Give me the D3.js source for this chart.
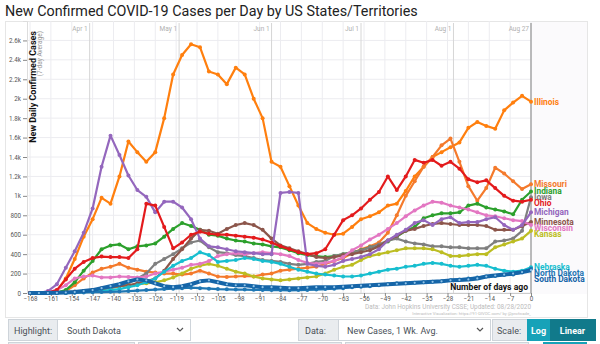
<!DOCTYPE html>
<html><head><meta charset="utf-8">
<script src="https://cdn.jsdelivr.net/npm/d3@7"></script>
<style>
html,body{margin:0;padding:0;background:#fff;}
svg{display:block;font-family:Roboto,"Open Sans",sans-serif;}
</style></head>
<body>
<svg id="chart" width="600" height="344"></svg>
<script>
// ---------- DATA ----------
const days = [-168,-165,-162,-159,-156,-153,-150,-147,-144,-141,-138,-135,-132,-129,-126,-123,-120,-117,-114,-111,-108,-105,-102,-99,-96,-93,-90,-87,-84,-81,-78,-75,-72,-69,-66,-63,-60,-57,-54,-51,-48,-45,-42,-39,-36,-33,-30,-27,-24,-21,-18,-15,-12,-9,-6,-3,0];
const illinois = [0,0,5,20,150,350,580,760,980,920,1200,1560,1450,1350,1450,1800,2250,2450,2560,2530,2280,2250,2150,2320,2250,2000,1800,1350,1300,1100,900,720,660,620,600,610,680,760,790,830,900,920,1050,1200,1300,1400,1450,1500,1550,1700,1760,1720,1690,1880,1960,2030,1970];
const missouri = [0,0,0,5,20,80,150,210,250,270,300,260,240,220,210,200,200,190,200,230,200,170,165,170,175,170,190,200,230,240,250,260,270,300,330,360,410,450,480,520,620,800,1000,1150,1300,1400,1520,1590,1350,1100,950,1080,1290,1230,1150,1070,1120];
const indiana = [0,0,0,5,30,110,230,330,450,490,500,450,480,490,510,580,660,720,690,650,600,590,560,540,530,510,500,480,470,440,410,390,380,370,380,400,420,440,470,490,530,580,640,680,770,800,820,820,830,900,920,880,860,840,810,960,1045];
const iowa = [0,0,0,0,5,10,20,30,40,50,70,100,150,200,300,350,400,460,520,540,470,420,410,390,380,360,340,330,320,300,290,300,320,330,380,400,420,440,470,500,540,560,530,510,500,480,480,470,470,460,460,460,530,540,560,640,985];
const ohio = [0,0,5,30,140,250,320,360,375,370,370,360,450,920,900,680,460,520,600,630,610,600,600,590,580,570,550,520,480,450,420,400,410,450,600,750,800,870,960,1040,1200,1060,1200,1370,1340,1370,1310,1350,1280,1170,1140,1160,1080,1000,950,940,960];
const michigan = [0,0,20,90,260,430,620,870,1300,1620,1420,1210,1060,990,830,940,940,880,760,560,480,470,450,430,420,410,400,400,1030,1040,1030,300,280,270,290,330,350,370,400,450,540,600,650,720,750,700,760,780,720,730,730,760,780,700,650,700,830];
const minnesota = [0,0,0,0,5,15,20,30,50,60,70,80,100,120,150,230,350,450,560,650,640,610,660,700,720,700,650,560,490,460,430,400,370,360,370,390,400,420,440,480,540,590,640,660,690,710,720,710,700,700,700,690,650,650,650,690,730];
const wisconsin = [0,0,10,30,80,150,170,180,160,160,170,165,160,170,200,220,240,260,290,300,330,380,400,410,400,410,420,410,400,380,340,310,300,310,330,370,440,490,550,600,660,720,790,850,900,940,930,900,880,860,830,800,790,770,750,740,700];
const kansas = [0,0,0,0,2,10,20,30,40,60,70,80,90,100,110,130,160,200,250,280,300,280,250,220,200,170,150,140,130,140,150,160,170,200,240,270,290,340,380,400,420,440,460,460,460,450,420,380,380,390,400,400,470,500,530,560,640];
const nebraska = [0,0,0,0,0,5,10,15,20,30,40,60,80,110,150,220,280,330,360,420,390,320,330,340,360,350,330,320,300,270,240,220,200,190,180,170,170,180,200,220,240,250,270,280,300,310,300,280,270,280,290,280,250,230,220,230,265];
const northDakota = [0,0,0,0,1,3,5,8,10,12,15,20,25,30,35,40,45,50,55,50,45,40,38,35,35,33,32,30,30,28,30,32,35,40,45,50,60,65,70,80,90,100,100,105,110,115,120,130,140,150,160,170,175,185,190,210,250];
const southDakota = [0,0,0,2,5,10,20,30,50,70,90,120,140,130,100,70,60,70,90,120,130,110,90,80,80,70,60,60,55,50,50,55,60,60,60,65,70,75,80,85,90,95,100,105,110,115,120,130,135,140,150,170,180,190,200,215,235];

const seriesNames = ["Illinois","Missouri","Indiana","Iowa","Kansas","Minnesota","Wisconsin","Nebraska","Michigan","Ohio","North Dakota","South Dakota"];
const seriesValues = [illinois,missouri,indiana,iowa,kansas,minnesota,wisconsin,nebraska,michigan,ohio,northDakota,southDakota];
const seriesColors = ["#ff7f0e","#f47a2c","#2ca02c","#7f7f7f","#bcbd22","#8c564b","#e377c2","#17becf","#9467bd","#e31a1c","#1f77b4","#1565a8"];
const highlighted = "South Dakota";

const xTicks = [-168,-161,-154,-147,-140,-133,-126,-119,-112,-105,-98,-91,-84,-77,-70,-63,-56,-49,-42,-35,-28,-21,-14,-7,0];
const yTicks = [0,200,400,600,800,1000,1200,1400,1600,1800,2000,2200,2400,2600];
const monthLabels = ["Apr 1","May 1","Jun 1","Jul 1","Aug 1","Aug 27"];
const monthDays = [-148,-118,-87,-57,-26,0];

// ---------- CHART ----------
const svg = d3.select("#chart");
const L = 27, R = 531, T = 21, B = 293;
const x = d3.scaleLinear().domain([-168, 0]).range([30, R]);
const y = d3.scaleLinear().domain([0, 2800]).range([B, T]);

// title
const title = svg.append("text").attr("x", 5).attr("y", 16)
  .attr("font-size", 16).attr("fill", "#222").text("New Confirmed COVID-19 Cases per Day by US States/Territories");
const tw = title.node().getComputedTextLength();
title.attr("font-size", 16 * 413 / tw);

// frame
svg.append("rect").attr("x", 5.5).attr("y", T + 0.5).attr("width", 582).attr("height", 296)
  .attr("fill", "#fff").attr("stroke", "#e6e6e6");
svg.append("rect").attr("x", R).attr("y", T + 1).attr("width", 587 - R).attr("height", B - T)
  .attr("fill", "#fbfafc");

// grid
const g = svg.append("g");
g.selectAll(".vg").data(xTicks).join("line")
  .attr("x1", d => x(d)).attr("x2", d => x(d)).attr("y1", T).attr("y2", B)
  .attr("stroke", "#ececf0").attr("stroke-width", 1);
g.selectAll(".hg").data(yTicks).join("line")
  .attr("x1", L).attr("x2", R).attr("y1", d => y(d)).attr("y2", d => y(d))
  .attr("stroke", "#ececf0").attr("stroke-width", 1);

// month lines
monthDays.forEach((d, i) => {
  const last = i === monthDays.length - 1;
  g.append("line").attr("x1", x(d)).attr("x2", x(d)).attr("y1", T + 2).attr("y2", B)
    .attr("stroke", last ? "#9a9a9a" : "#d6d6d6").attr("stroke-width", last ? 1.3 : 1);
  g.append("text").attr("x", x(d) - 2).attr("y", 31).attr("text-anchor", "end")
    .attr("font-size", 6.5).attr("fill", "#b0b0b0").text(monthLabels[i]);
});

// axes
const yAxis = svg.append("g").attr("transform", `translate(${L},0)`)
  .call(d3.axisLeft(y).tickValues(yTicks).tickSize(4).tickPadding(2)
    .tickFormat(d => d >= 1000 ? (d / 1000) + "k" : d));
yAxis.select(".domain").attr("stroke", "#ddd");
yAxis.selectAll(".tick line").attr("stroke", "#888");
yAxis.selectAll("text").attr("font-size", 6.3).attr("fill", "#555").attr("font-family", "Roboto");

const xAxis = svg.append("g").attr("transform", `translate(0,${B})`)
  .call(d3.axisBottom(x).tickValues(xTicks).tickSize(3).tickPadding(1));
xAxis.select(".domain").attr("stroke", "#ccc");
xAxis.selectAll(".tick line").attr("stroke", "#888");
xAxis.selectAll("text").attr("font-size", 6.3).attr("fill", "#555").attr("font-family", "Roboto");

// axis titles
svg.append("text").attr("transform", "translate(35.5,31) rotate(-90)").attr("text-anchor", "end")
  .attr("font-size", 9).attr("font-weight", "bold").attr("fill", "#111").text("New Daily Confirmed Cases");
svg.append("text").attr("transform", "translate(42,31) rotate(-90)").attr("text-anchor", "end")
  .attr("font-size", 6.5).attr("fill", "#999").text("(7-day Average)");

// lines
const line = d3.line().x((d, i) => x(days[i])).y(d => y(d));
seriesNames.forEach((name, k) => {
  const vals = seriesValues[k];
  const hl = name === highlighted;
  svg.append("path").datum(vals).attr("d", line).attr("fill", "none")
    .attr("stroke", seriesColors[k]).attr("stroke-width", hl ? 4 : 2.2)
    .attr("stroke-linejoin", "round");
  svg.append("g").selectAll("circle").data(vals).join("circle")
    .attr("cx", (d, i) => x(days[i])).attr("cy", d => y(d)).attr("r", hl ? 1.1 : 2)
    .attr("fill", hl ? "#8fc3e8" : seriesColors[k]);
});

// end labels with collision avoidance
const labs = seriesNames.map((n, k) => ({ name: n, color: seriesColors[k], y: y(seriesValues[k][seriesValues[k].length - 1]) }))
  .sort((a, b) => a.y - b.y);
for (let i = 1; i < labs.length; i++) if (labs[i].y < labs[i - 1].y + 5.8) labs[i].y = labs[i - 1].y + 5.8;
svg.append("g").selectAll("text").data(labs).join("text")
  .attr("x", R + 3).attr("y", d => d.y).attr("dy", "0.35em")
  .attr("font-size", 8.4).attr("font-weight", "bold").attr("fill", d => d.color).text(d => d.name);

// x-axis title & source
svg.append("text").attr("x", 528).attr("y", 290).attr("text-anchor", "end")
  .attr("font-size", 8.6).attr("font-weight", "bold").attr("fill", "#111").text("Number of days ago");
svg.append("text").attr("x", 531).attr("y", 309).attr("text-anchor", "end")
  .attr("font-size", 6.4).attr("fill", "#bbb").text("Data: John Hopkins University CSSE; Updated: 08/28/2020");
svg.append("text").attr("x", 531).attr("y", 314.5).attr("text-anchor", "end")
  .attr("font-size", 4.2).attr("fill", "#bbb").text("Interactive Visualization: https://91-DIVOC.com/ by @profwade_");

// controls
const ctl = svg.append("g").attr("font-size", 9);
function box(x0, w, fill, txt, color, bold, anchor, pad) {
  ctl.append("rect").attr("x", x0 + 0.5).attr("y", 319.5).attr("width", w).attr("height", 21)
    .attr("fill", fill).attr("stroke", fill === "#fff" || fill === "#e9ecef" ? "#ced4da" : fill);
  ctl.append("text").attr("x", anchor === "middle" ? x0 + w / 2 : x0 + (pad || 7)).attr("y", 333.5)
    .attr("text-anchor", anchor || "start").attr("fill", color).attr("font-weight", bold ? "bold" : "normal").text(txt);
}
function chevron(cx) {
  ctl.append("path").attr("d", `M${cx - 3},328 L${cx},331 L${cx + 3},328`).attr("fill", "none")
    .attr("stroke", "#555").attr("stroke-width", 1.2);
}
box(8, 49, "#e9ecef", "Highlight:", "#495057", false, "start", 6);
box(57, 133, "#fff", "South Dakota", "#495057", false, "start", 10);
chevron(180);
box(298, 40, "#e9ecef", "Data:", "#495057", false, "start", 7);
box(338, 152, "#fff", "New Cases, 1 Wk. Avg.", "#495057", false, "start", 9);
chevron(480);
box(492, 35, "#e9ecef", "Scale:", "#495057", false, "start", 5);
box(527, 23, "#17a2b8", "Log", "#fff", true, "middle");
box(550, 45, "#117a8b", "Linear", "#fff", true, "middle");
// next row (partially visible)
[[8, 126, "#e9ecef"], [138, 203, "#e9ecef"], [345, 183, "#e9ecef"], [543, 43, "#17a2b8"]].forEach(r => {
  ctl.append("rect").attr("x", r[0] + 0.5).attr("y", 342.5).attr("width", r[1]).attr("height", 10)
    .attr("fill", r[2]).attr("stroke", r[2] === "#17a2b8" ? r[2] : "#ced4da");
});
</script>
</body></html>
